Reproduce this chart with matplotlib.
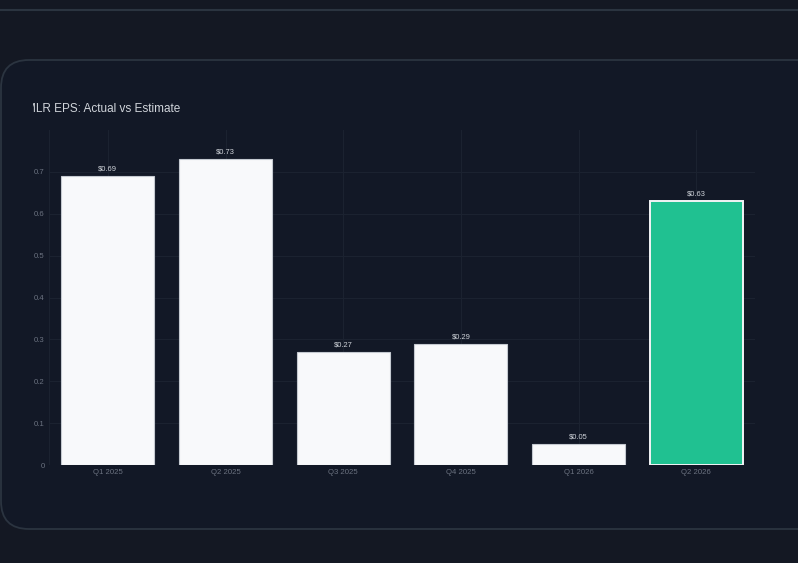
import numpy as np
import matplotlib
matplotlib.use('Agg')
import matplotlib.pyplot as plt
from matplotlib.patches import FancyBboxPatch
from matplotlib.transforms import Bbox

plt.rcParams['font.family'] = ['Liberation Sans', 'DejaVu Sans']

# data
quarters = ['Q1 2025', 'Q2 2025', 'Q3 2025', 'Q4 2025', 'Q1 2026', 'Q2 2026']
eps = [0.69, 0.73, 0.27, 0.29, 0.05, 0.63]
highlight = [False, False, False, False, False, True]

W, H = 798, 563
bg = '#141823'
fig = plt.figure(figsize=(W / 100, H / 100), dpi=100)
fig.patch.set_facecolor(bg)

def fx(px):
    return px / W

def fy(py):
    return 1 - py / H

# top line (bottom edge of card above)
fig.add_artist(plt.Line2D([0, 1], [fy(10), fy(10)], color='#2b3440', lw=1.5,
                          transform=fig.transFigure, zorder=-2))

# card
card = FancyBboxPatch((fx(1), fy(529)), fx(840), (529 - 60) / H,
                      boxstyle='round,pad=0,rounding_size=0.035',
                      transform=fig.transFigure, facecolor='#121826',
                      edgecolor='#2b3440', lw=1.3, mutation_aspect=W / H, zorder=-2)
fig.add_artist(card)

# title, clipped on the left like the reference
t = fig.text(fx(26), fy(109), 'MLR EPS: Actual vs Estimate', color='#d1d5db',
             fontsize=8.5, va='center', ha='left')
t.set_clip_on(True)
t.set_clip_box(Bbox.from_extents(33, 0, W, H))

ax = fig.add_axes([fx(49), fy(465), fx(755) - fx(49), (465 - 130) / H])
ax.set_facecolor('none')

x = np.arange(len(quarters))
for xi, v, hl in zip(x, eps, highlight):
    if hl:
        ax.bar(xi, v, width=0.79, color='#20c191', edgecolor='#f3f4f6', lw=1.4, zorder=3)
    else:
        ax.bar(xi, v, width=0.79, color='#f8f9fb', edgecolor='#c4c9d0', lw=0.8, zorder=3)
    ax.text(xi, v + 0.008, f'${v:.2f}', ha='center', va='bottom',
            fontsize=5.4, color='#d1d5db', zorder=4)

ax.set_xlim(-0.5, 5.5)
ax.set_ylim(0, 0.8)
ax.set_xticks(x)
ax.set_xticklabels(quarters)
ax.set_yticks([0, 0.1, 0.2, 0.3, 0.4, 0.5, 0.6, 0.7])
ax.set_yticklabels(['0', '0.1', '0.2', '0.3', '0.4', '0.5', '0.6', '0.7'])
ax.tick_params(length=0, labelsize=5.6, colors='#6b7280', pad=3)
ax.grid(True, color='#1b2230', lw=0.8, zorder=0)
for s in ax.spines.values():
    s.set_visible(False)
ax.axvline(-0.5, color='#1b2230', lw=0.8, zorder=0)

fig.savefig('out.png', dpi=100, facecolor=bg)
